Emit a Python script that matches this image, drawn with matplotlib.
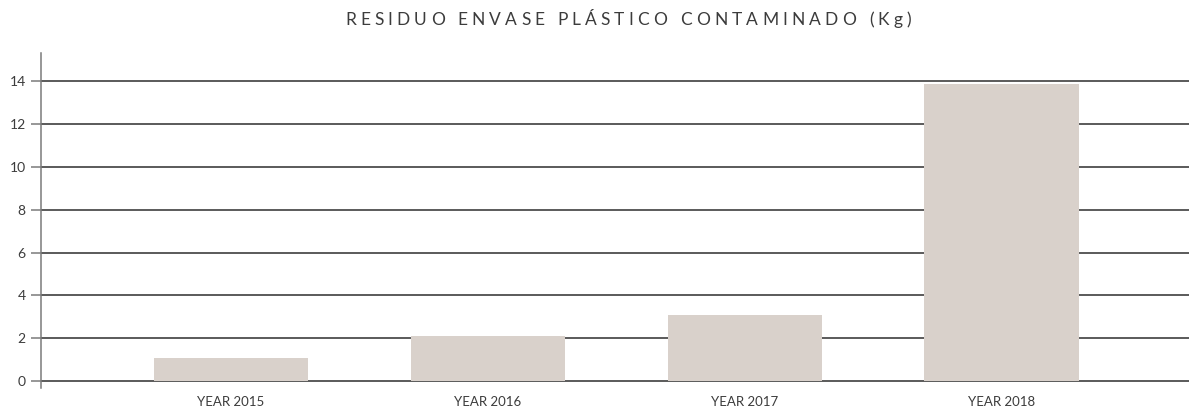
import matplotlib
matplotlib.use('Agg')
import matplotlib.pyplot as plt
import numpy as np

# data
years = ['YEAR 2015', 'YEAR 2016', 'YEAR 2017', 'YEAR 2018']
kg = [1.05, 2.1, 3.1, 13.9]
yticks = [0, 2, 4, 6, 8, 10, 12, 14]
title = 'RESIDUO ENVASE PLÁSTICO CONTAMINADO (Kg)'

bar_color = '#d9d1cb'
text_color = '#3c3c3c'

plt.rcParams['font.family'] = ['Lato', 'DejaVu Sans']

fig = plt.figure(figsize=(11.89, 4.16), dpi=100)
ax = fig.add_axes([41 / 1189, 28 / 416, 1 - 41 / 1189, (388 - 53) / 416])

x = np.arange(len(years))
ax.bar(x, kg, width=0.6, color=bar_color, zorder=2)

ax.set_xlim(-0.74, 3.73)
ax.set_ylim(-0.33, 15.33)
ax.set_yticks(yticks)
ax.set_xticks(x)
ax.set_xticklabels(years)

for t in yticks:
    ax.axhline(t, color='#2e2e2e', lw=1.1, zorder=1)

for s in ['top', 'right', 'bottom']:
    ax.spines[s].set_visible(False)
ax.spines['left'].set_color('#7a7a7a')
ax.spines['left'].set_linewidth(1.1)

ax.tick_params(axis='y', length=7, width=1.1, color='#7a7a7a', labelsize=10,
               labelcolor=text_color, pad=4)
ax.tick_params(axis='x', length=0, labelsize=9.5, labelcolor=text_color, pad=6)

# title with letter spacing, drawn char by char
fig.canvas.draw()
renderer = fig.canvas.get_renderer()
fs = 12.5
track = 4.1
widths = []
for ch in title:
    tmp = fig.text(0, 0, 'a' if ch == ' ' else ch, fontsize=fs)
    w = tmp.get_window_extent(renderer).width
    widths.append(w * 0.55 if ch == ' ' else w)
    tmp.remove()
total = sum(widths) + track * (len(title) - 1)
cx = 628
xpos = cx - total / 2
for ch, w in zip(title, widths):
    if ch != ' ':
        fig.text(xpos / 1189, 1 - 20 / 416, ch, fontsize=fs, color=text_color,
                 ha='left', va='center')
    xpos += w + track

fig.savefig('out.png', dpi=100)
